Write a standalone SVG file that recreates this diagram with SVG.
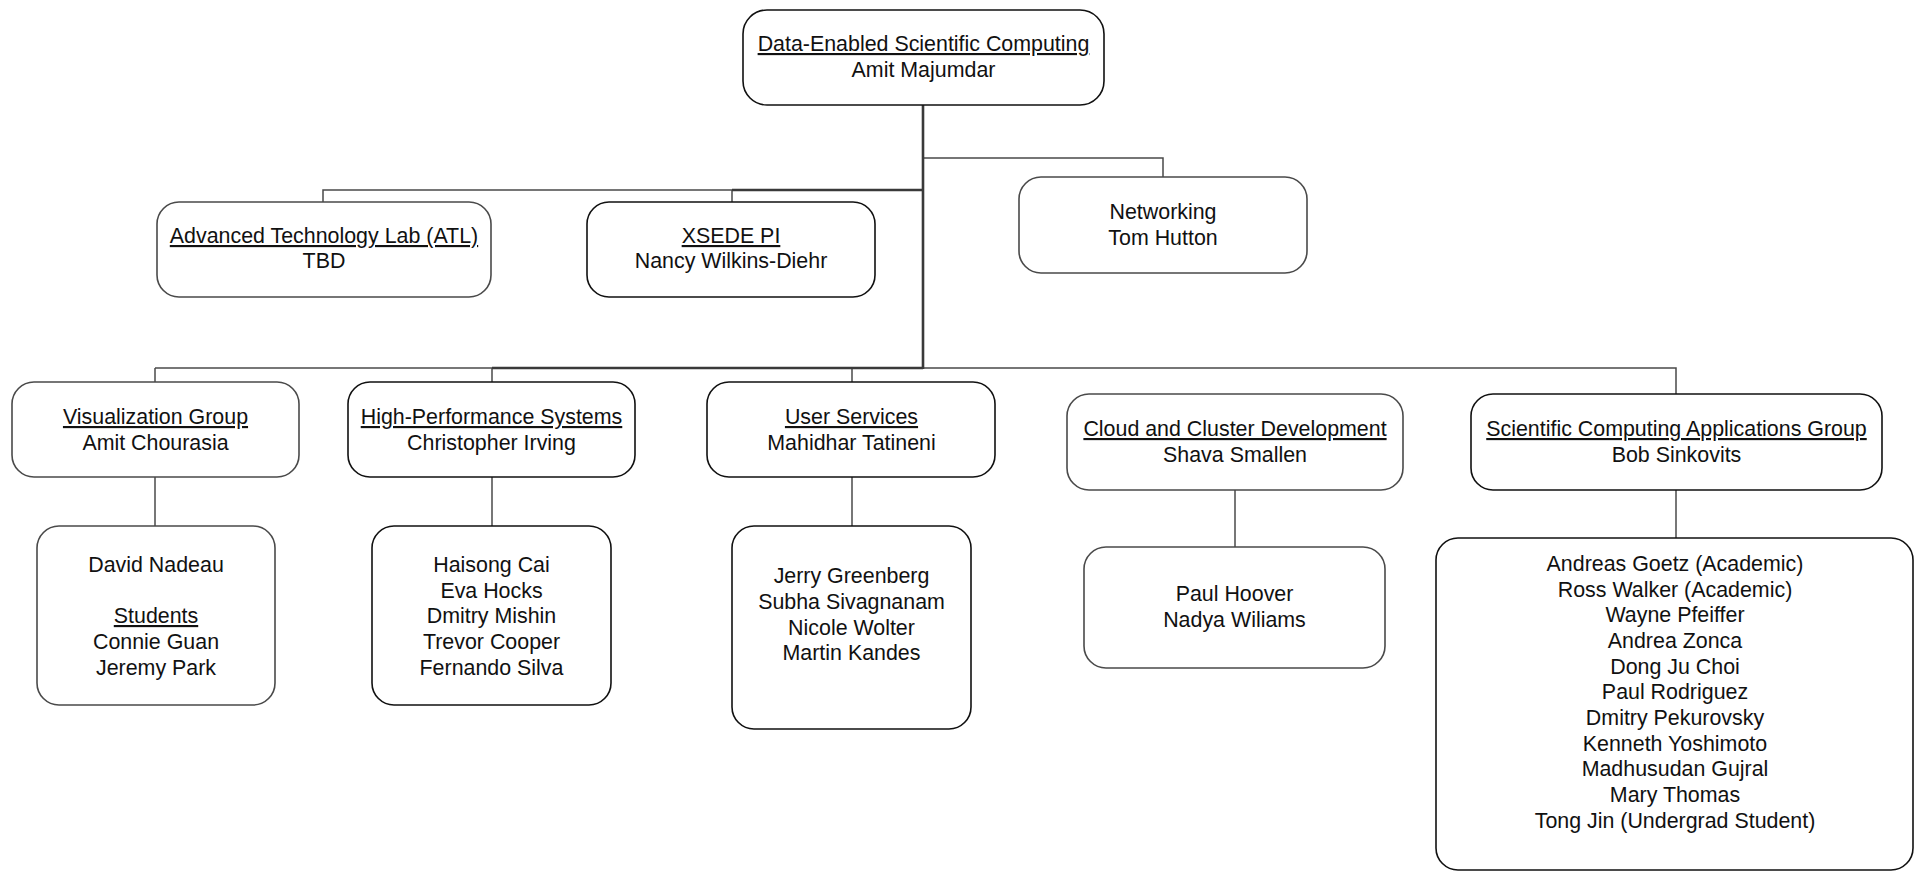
<svg xmlns="http://www.w3.org/2000/svg" width="1919" height="872" viewBox="0 0 1919 872">
<style>
  .box { fill: #ffffff; stroke-width: 1.6; }
  .dk { stroke: #111111; }
  .lt { stroke: #4a4a4a; }
  text { font-family: "Liberation Sans", Arial, sans-serif; font-size: 21.4px; fill: #111111; text-anchor: middle; }
  .u { text-decoration: underline; }
  .thick { fill: none; stroke: #3a3a3a; stroke-width: 2.6; }
  .thin { fill: none; stroke: #4a4a4a; stroke-width: 1.5; }
</style>
<rect width="1919" height="872" fill="#ffffff"/>
<g id="connectors">
  <path class="thin" d="M923,158 H1163 V177"/>
  <path class="thin" d="M732,190 H323 V202"/>
  <path class="thin" d="M732,190 V202"/>
  <path class="thin" d="M155,368 H492"/>
  <path class="thin" d="M155,368 V382"/>
  <path class="thin" d="M492,368 V382"/>
  <path class="thin" d="M852,368 V382"/>
  <path class="thin" d="M923,368 H1676 V394"/>
  <path class="thin" d="M155,477 V526"/>
  <path class="thin" d="M492,477 V526"/>
  <path class="thin" d="M852,477 V526"/>
  <path class="thin" d="M1235,490 V547"/>
  <path class="thin" d="M1676,490 V538"/>
  <path class="thick" d="M923,105 V369"/>
  <path class="thick" d="M923,190 H732"/>
  <path class="thick" d="M923,368 H492"/>
</g>
<g id="dsc">
  <rect class="box dk" x="743" y="10" width="361" height="95" rx="24"/>
  <text x="923.5" y="51" class="u">Data-Enabled Scientific Computing</text>
  <text x="923.5" y="77">Amit Majumdar</text>
</g>
<g id="atl">
  <rect class="box lt" x="157" y="202" width="334" height="95" rx="22"/>
  <text x="324" y="243" class="u">Advanced Technology Lab (ATL)</text>
  <text x="324" y="268">TBD</text>
</g>
<g id="xsede">
  <rect class="box dk" x="587" y="202" width="288" height="95" rx="22"/>
  <text x="731" y="243" class="u">XSEDE PI</text>
  <text x="731" y="268">Nancy Wilkins-Diehr</text>
</g>
<g id="networking">
  <rect class="box lt" x="1019" y="177" width="288" height="96" rx="22"/>
  <text x="1163" y="219">Networking</text>
  <text x="1163" y="245">Tom Hutton</text>
</g>
<g id="vis">
  <rect class="box lt" x="12" y="382" width="287" height="95" rx="22"/>
  <text x="155.5" y="424" class="u">Visualization Group</text>
  <text x="155.5" y="450">Amit Chourasia</text>
</g>
<g id="hps">
  <rect class="box dk" x="348" y="382" width="287" height="95" rx="22"/>
  <text x="491.5" y="424" class="u">High-Performance Systems</text>
  <text x="491.5" y="450">Christopher Irving</text>
</g>
<g id="us">
  <rect class="box dk" x="707" y="382" width="288" height="95" rx="22"/>
  <text x="851.5" y="424" class="u">User Services</text>
  <text x="851.5" y="450">Mahidhar Tatineni</text>
</g>
<g id="cloud">
  <rect class="box lt" x="1067" y="394" width="336" height="96" rx="22"/>
  <text x="1235" y="436" class="u">Cloud and Cluster Development</text>
  <text x="1235" y="462">Shava Smallen</text>
</g>
<g id="scag">
  <rect class="box dk" x="1471" y="394" width="411" height="96" rx="22"/>
  <text x="1676.5" y="436" class="u">Scientific Computing Applications Group</text>
  <text x="1676.5" y="462">Bob Sinkovits</text>
</g>
<g id="vis-members">
  <rect class="box lt" x="37" y="526" width="238" height="179" rx="22"/>
  <text x="156" y="572">David Nadeau</text>
  <text x="156" y="623" class="u">Students</text>
  <text x="156" y="649">Connie Guan</text>
  <text x="156" y="675">Jeremy Park</text>
</g>
<g id="hps-members">
  <rect class="box dk" x="372" y="526" width="239" height="179" rx="22"/>
  <text x="491.5" y="572">Haisong Cai</text>
  <text x="491.5" y="598">Eva Hocks</text>
  <text x="491.5" y="623">Dmitry Mishin</text>
  <text x="491.5" y="649">Trevor Cooper</text>
  <text x="491.5" y="675">Fernando Silva</text>
</g>
<g id="us-members">
  <rect class="box dk" x="732" y="526" width="239" height="203" rx="22"/>
  <text x="851.5" y="583">Jerry Greenberg</text>
  <text x="851.5" y="609">Subha Sivagnanam</text>
  <text x="851.5" y="635">Nicole Wolter</text>
  <text x="851.5" y="660">Martin Kandes</text>
</g>
<g id="cloud-members">
  <rect class="box lt" x="1084" y="547" width="301" height="121" rx="22"/>
  <text x="1234.5" y="601">Paul Hoover</text>
  <text x="1234.5" y="627">Nadya Wiliams</text>
</g>
<g id="scag-members">
  <rect class="box dk" x="1436" y="538" width="477" height="332" rx="22"/>
  <text x="1675" y="571">Andreas Goetz (Academic)</text>
  <text x="1675" y="597">Ross Walker (Academic)</text>
  <text x="1675" y="622">Wayne Pfeiffer</text>
  <text x="1675" y="648">Andrea Zonca</text>
  <text x="1675" y="674">Dong Ju Choi</text>
  <text x="1675" y="699">Paul Rodriguez</text>
  <text x="1675" y="725">Dmitry Pekurovsky</text>
  <text x="1675" y="751">Kenneth Yoshimoto</text>
  <text x="1675" y="776">Madhusudan Gujral</text>
  <text x="1675" y="802">Mary Thomas</text>
  <text x="1675" y="828">Tong Jin (Undergrad Student)</text>
</g>
</svg>
